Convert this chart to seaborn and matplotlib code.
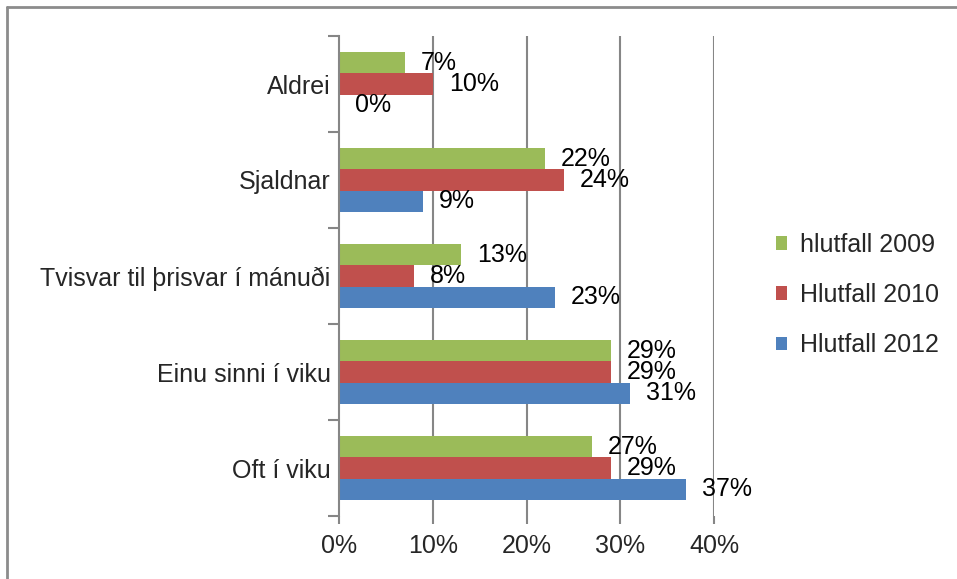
import matplotlib
matplotlib.use("Agg")
import matplotlib.pyplot as plt
import seaborn as sns
import pandas as pd
import numpy as np
from matplotlib.ticker import FixedLocator, FuncFormatter
from matplotlib.lines import Line2D
from matplotlib.patches import Patch

categories = ["Aldrei", "Sjaldnar", "Tvisvar til þrisvar í mánuði", "Einu sinni í viku", "Oft í viku"]
series_names = ["hlutfall 2009", "Hlutfall 2010", "Hlutfall 2012"]
values_2009 = [7, 22, 13, 29, 27]
values_2010 = [10, 24, 8, 29, 29]
values_2012 = [0, 9, 23, 31, 37]
x_ticks = [0, 10, 20, 30, 40]
colors = ["#9BBB59", "#C0504D", "#4F81BD"]

rows = []
for name, vals in zip(series_names, [values_2009, values_2010, values_2012]):
    for c, v in zip(categories, vals):
        rows.append({"cat": c, "series": name, "val": v})
df = pd.DataFrame(rows)

sns.set_style("white")
FONT = ["Liberation Sans", "DejaVu Sans"]
plt.rcParams["font.family"] = FONT
FS = 18

fig = plt.figure(figsize=(9.57, 5.79), dpi=100)
W, H = 957, 579
ax = fig.add_axes([339 / W, 1 - 516 / H, (714 - 339) / W, (516 - 36) / H])

sns.barplot(data=df, x="val", y="cat", hue="series", order=categories,
            hue_order=series_names, palette=colors, width=0.667, gap=0,
            orient="h", ax=ax, saturation=1, legend=False, linewidth=0)

ax.set_xlim(0, 40)
ax.set_ylim(len(categories) - 0.5, -0.5)
ax.set_xlabel("")
ax.set_ylabel("")

grid_c = "#868686"
ax.xaxis.set_major_locator(FixedLocator(x_ticks))
ax.xaxis.set_major_formatter(FuncFormatter(lambda v, p: f"{int(v)}%"))
for t in x_ticks[1:]:
    ax.axvline(t, color=grid_c, lw=1.5, zorder=0)
ax.tick_params(axis="x", direction="out", length=6, width=1.5, color=grid_c,
               labelsize=FS, pad=7, bottom=True)

ax.set_yticks(np.arange(len(categories)))
ax.set_yticklabels(categories)
ax.tick_params(axis="y", which="major", length=0, labelsize=FS, pad=6)
ax.set_yticks(np.arange(len(categories) + 1) - 0.5, minor=True)
ax.tick_params(axis="y", which="minor", direction="out", length=8, width=1.5,
               color=grid_c, left=True)

for s in ["top", "right", "bottom"]:
    ax.spines[s].set_visible(False)
ax.spines["left"].set_color(grid_c)
ax.spines["left"].set_linewidth(1.5)

for cont in ax.containers:
    labels = [f"{int(round(b.get_width()))}%" for b in cont]
    ax.bar_label(cont, labels=labels, padding=11.5, fontsize=FS, color="black")

handles = [Patch(facecolor=c, edgecolor="none") for c in colors]
leg = fig.legend(handles, series_names, loc="center left",
                 bbox_to_anchor=(753 / W, 1 - 295 / H), frameon=False,
                 fontsize=FS, handlelength=0.45, handleheight=0.45,
                 handletextpad=0.55, labelspacing=1.05)

# outer chart border (only top/left visible in the crop)
fig.add_artist(Line2D([6.5 / W, 6.5 / W], [0, 1 - 6.5 / H], transform=fig.transFigure,
                      color="#8c8c8c", lw=2))
fig.add_artist(Line2D([6.5 / W, 1], [1 - 6.5 / H, 1 - 6.5 / H], transform=fig.transFigure,
                      color="#8c8c8c", lw=2))

fig.savefig("out.png", dpi=100)
